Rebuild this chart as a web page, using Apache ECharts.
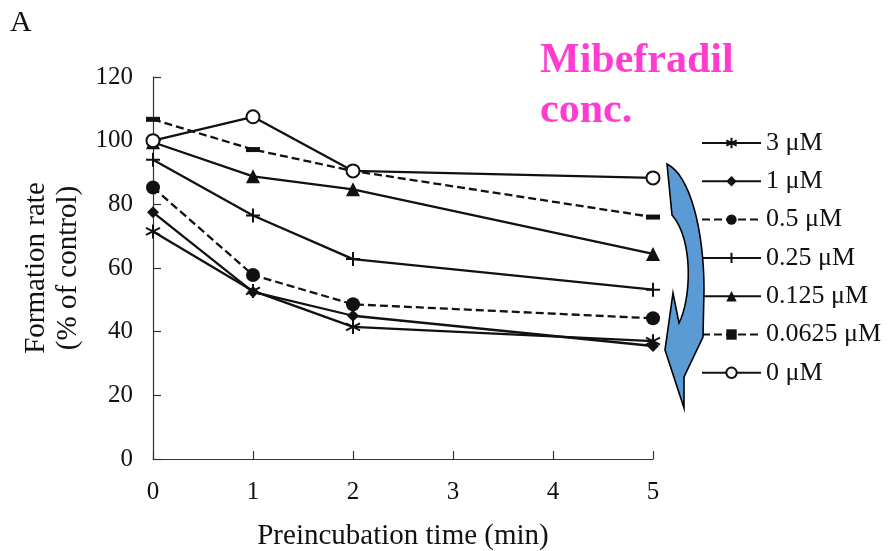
<!DOCTYPE html>
<html>
<head>
<meta charset="utf-8">
<script src="https://cdn.jsdelivr.net/npm/echarts@6/dist/echarts.min.js"></script>
<style>
  html, body { margin: 0; padding: 0; background: #fff; }
  #chart { width: 892px; height: 551px; }
</style>
</head>
<body>
<div id="chart"></div>
<script>
// Preincubation times (min)
const times = [0, 1, 2, 5];
const yTicks = [0, 20, 40, 60, 80, 100, 120];

// Formation rate (% of control) per mibefradil concentration
const conc3 = [71.5, 52.8, 41.5, 37.0];
const conc1 = [77.5, 52.5, 45.0, 35.5];
const conc05 = [85.3, 57.8, 48.6, 44.2];
const conc025 = [94.0, 76.5, 62.8, 53.2];
const conc0125 = [99.5, 88.8, 84.7, 64.4];
const conc00625 = [106.7, 97.2, 90.5, 76.0];
const conc0 = [100.0, 107.5, 90.5, 88.3];

const seriesNames = ['3 μM', '1 μM', '0.5 μM', '0.25 μM', '0.125 μM', '0.0625 μM', '0 μM'];

const INK = '#111';
const FONT = '"Liberation Serif", "Times New Roman", serif';

const asterisk = 'path://M5,0L5,10M0.7,2.5L9.3,7.5M0.7,7.5L9.3,2.5';
const plus = 'path://M0,5L10,5M5,0L5,10';

function pairs(vals) {
  return times.map((t, i) => [t, vals[i]]);
}

function makeSeries(name, vals, symbol, size, dashed) {
  const stroked = symbol === asterisk || symbol === plus;
  return {
    name: name,
    type: 'line',
    data: pairs(vals),
    symbol: symbol,
    symbolSize: size,
    showSymbol: true,
    animation: false,
    lineStyle: { color: INK, width: 2.3, type: dashed ? [8, 4] : 'solid' },
    itemStyle: {
      color: INK,
      borderColor: INK,
      borderWidth: stroked ? 2 : (symbol === 'emptyCircle' ? 1.8 : 0)
    },
    emphasis: { disabled: true }
  };
}

// Sample a cubic Bezier into polygon points (skipping the start point)
function cubic(p0, p1, p2, p3, n) {
  const out = [];
  for (let i = 1; i <= n; i++) {
    const t = i / n, u = 1 - t;
    out.push([
      u * u * u * p0[0] + 3 * u * u * t * p1[0] + 3 * u * t * t * p2[0] + t * t * t * p3[0],
      u * u * u * p0[1] + 3 * u * u * t * p1[1] + 3 * u * t * t * p2[1] + t * t * t * p3[1]
    ]);
  }
  return out;
}

// Outline of the curved down-pointing arrow beside the curve ends
const arrowPts = [[667, 164]]
  .concat(cubic([667, 164], [690, 175], [704, 230], [704, 290], 16))
  .concat([[703, 337], [684, 377], [684, 408], [665, 350], [673, 293], [679, 323]])
  .concat(cubic([679, 323], [691, 300], [694, 240], [672, 215], 16));

const chart = echarts.init(document.getElementById('chart'));

chart.setOption({
  backgroundColor: '#fff',
  animation: false,
  grid: { left: 153, right: 239, top: 77, bottom: 92, containLabel: false, outerBoundsMode: 'none' },
  xAxis: {
    type: 'value',
    min: 0, max: 5, interval: 1,
    name: 'Preincubation time (min)',
    nameLocation: 'middle',
    nameGap: 63,
    nameTextStyle: { fontFamily: FONT, fontSize: 29, color: INK },
    axisLine: { show: true, lineStyle: { color: '#333', width: 1.2 } },
    axisTick: { show: true, inside: true, length: 8, lineStyle: { color: '#333', width: 1.2 } },
    axisLabel: { fontFamily: FONT, fontSize: 25, color: INK, margin: 21 },
    splitLine: { show: false }
  },
  yAxis: {
    type: 'value',
    min: yTicks[0], max: yTicks[yTicks.length - 1], interval: 20,
    name: 'Formation rate\n(% of control)',
    nameLocation: 'middle',
    nameGap: 64,
    nameRotate: 90,
    nameTextStyle: { fontFamily: FONT, fontSize: 29, color: INK, lineHeight: 32 },
    axisLine: { show: true, lineStyle: { color: '#333', width: 1.2 } },
    axisTick: { show: true, inside: true, length: 8, lineStyle: { color: '#333', width: 1.2 } },
    axisLabel: { fontFamily: FONT, fontSize: 25, color: INK, margin: 20 },
    splitLine: { show: false }
  },
  legend: {
    orient: 'vertical',
    left: 701,
    top: 130,
    padding: 0,
    itemWidth: 59,
    itemHeight: 13,
    itemGap: 12.3,
    data: seriesNames,
    textStyle: { fontFamily: FONT, fontSize: 26, color: INK, lineHeight: 26 },
    selectedMode: false
  },
  series: [
    makeSeries(seriesNames[0], conc3, asterisk, 14, false),
    makeSeries(seriesNames[1], conc1, 'diamond', 12, false),
    makeSeries(seriesNames[2], conc05, 'circle', 14, true),
    makeSeries(seriesNames[3], conc025, plus, 14, false),
    makeSeries(seriesNames[4], conc0125, 'triangle', 14, false),
    makeSeries(seriesNames[5], conc00625, 'rect', [14, 5], true),
    makeSeries(seriesNames[6], conc0, 'emptyCircle', 13, false)
  ],
  graphic: [
    {
      type: 'text',
      left: 10, top: 8,
      style: { text: 'A', font: '30px ' + FONT, fill: INK }
    },
    {
      type: 'text',
      left: 540, top: 36,
      style: {
        text: 'Mibefradil\nconc.',
        font: 'bold 42px ' + FONT,
        fill: '#ff3ccf',
        lineHeight: 50
      }
    },
    {
      type: 'polygon',
      z: 10,
      shape: { points: arrowPts },
      style: { fill: '#5b9bd5', stroke: '#000', lineWidth: 1.6 }
    }
  ]
});
</script>
</body>
</html>
